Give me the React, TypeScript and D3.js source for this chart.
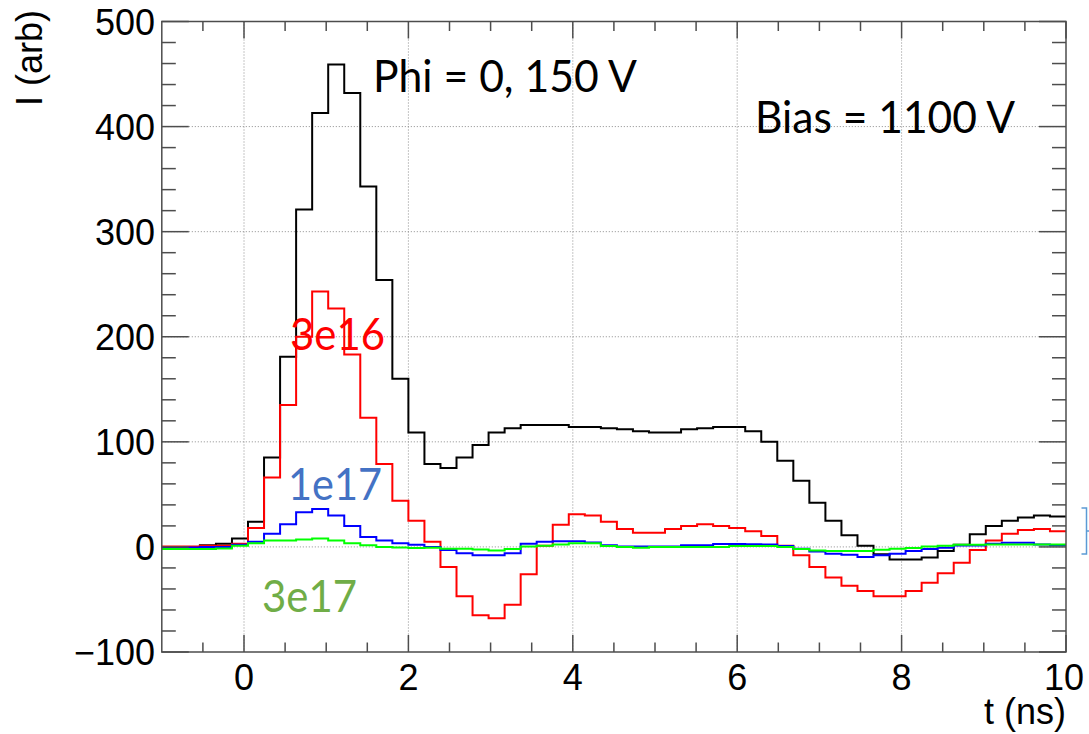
import * as d3 from 'd3';

// histogram binning (bin edges)
const BIN_LO = -1.122;
const BIN_WIDTH = 0.19512;

// signal per bin, Phi = 0 (black)
const phi0 = [
  0, 0, 0, 1.5, 3, 8, 24, 85, 181, 321, 413, 459, 432, 343, 254, 160, 109, 79, 75,
  85, 97, 109, 113, 116, 116, 116, 114, 114, 113, 112, 110, 109, 109, 112, 113, 114,
  114, 110, 100, 82, 63, 42, 25, 11, 1, -7, -12, -12, -10, -4, 2, 12, 20, 25, 28, 30, 29,
];
// 3e16 (red)
const phi3e16 = [
  0.5, 0.5, 0.5, 1, 1, 3, 18, 66, 135, 200, 243, 227, 183, 123, 79, 44, 25, 5, -19,
  -47, -65, -68, -55, -26, 1, 21, 31, 30, 24, 17, 13.5, 13.5, 17, 20, 21.5, 20, 18, 15,
  10.5, 1, -8, -19, -29, -37, -42, -47, -47, -42, -34, -25, -15, -3, 6, 12.5, 16, 17, 15,
];
// 1e17 (blue)
const phi1e17 = [
  -1, -1, -0.5, 0, 0, 2, 5, 12.5, 21.5, 33, 36, 30, 20, 9.5, 6, 3.5, 2, 0, -3, -6, -8,
  -8, -6, 3, 5, 5.5, 5.5, 4.3, 1.7, 0.5, 0.5, 0.5, 0.5, 1.7, 1.7, 2.7, 2.7, 2.5, 2.4, 0.8,
  -1.7, -4.3, -6.5, -7.4, -9.7, -8, -6.5, -4, -2, -0.8, 1.4, 1.4, 3, 4, 4, 2.4, 1.7,
];
// 3e17 (green)
const phi3e17 = [
  -2, -2, -2, -2, -1.5, 1, 3.5, 6, 6, 7, 8, 6, 3.5, 1.5, 0, -0.5, -1, -0.8, -1.7, -1.7,
  -2.4, -3.3, -2, 0.5, 1, 2.4, 3.6, 3.6, 0.8, 0, -0.8, 0, 0, 0, 0, 0, 0.8, 0.8, 0.8, 0,
  -2, -3.3, -4, -4, -4, -2.7, -1.7, -1, 0.3, 1, 2, 2, 2.4, 2.4, 2.4, 2.4, 2.4,
];

const xMajor = [0, 2, 4, 6, 8, 10];
const yMajor = [-100, 0, 100, 200, 300, 400, 500];

const W = 1089;
const H = 734;
const left = 161.8, right = 1066, top = 21.5, bottom = 652;

const x = d3.scaleLinear().domain([-1, 10]).range([left, right]);
const y = d3.scaleLinear().domain([-100, 500]).range([bottom, top]);

const stepLine = d3
  .line<[number, number]>()
  .x(d => x(d[0]))
  .y(d => y(d[1]))
  .curve(d3.curveStepAfter);

function histPath(vals: number[]) {
  const pts: [number, number][] = vals.map((v, i) => [BIN_LO + i * BIN_WIDTH, v]);
  pts.push([BIN_LO + vals.length * BIN_WIDTH, vals[vals.length - 1]]);
  return stepLine(pts) || '';
}

const series = [
  { vals: phi0, color: '#000000' },
  { vals: phi3e16, color: '#ff0000' },
  { vals: phi1e17, color: '#0000ff' },
  { vals: phi3e17, color: '#00ff00' },
];

export default function App() {
  const xMinor = d3.range(-1, 10.01, 0.5).filter(v => !xMajor.includes(v) && v > -1);
  const yMinor = d3.range(-100, 500.01, 20).filter(v => !yMajor.includes(v));
  const axisColor = '#4d4d4d';
  const tickFont = { fontFamily: '"Liberation Sans", Arial, sans-serif', fontSize: 36 };
  const noteFont = { fontFamily: 'Lato, "Open Sans", sans-serif' };

  return (
    <svg width={W} height={H} style={{ position: 'absolute', left: 0, top: 0, background: '#fff' }}>
      <defs>
        <clipPath id="plot">
          <rect x={left} y={top} width={right - left} height={bottom - top} />
        </clipPath>
      </defs>

      {/* grid */}
      <g stroke="#8c8c8c" strokeWidth={1} strokeDasharray="1 2">
        {xMajor.filter(v => v > -1 && v < 10).map(v => (
          <line key={'gx' + v} x1={x(v)} x2={x(v)} y1={top} y2={bottom} />
        ))}
        {yMajor.filter(v => v > -100 && v < 500).map(v => (
          <line key={'gy' + v} x1={left} x2={right} y1={y(v)} y2={y(v)} />
        ))}
      </g>

      {/* histograms */}
      <g clipPath="url(#plot)" fill="none" strokeWidth={2}>
        {series.map((s, i) => (
          <path key={i} d={histPath(s.vals)} stroke={s.color} />
        ))}
      </g>

      {/* frame and ticks */}
      <g stroke={axisColor} strokeWidth={1.5}>
        <rect x={left} y={top} width={right - left} height={bottom - top} fill="none" />
        {xMajor.map(v => (
          <g key={'xt' + v}>
            <line x1={x(v)} x2={x(v)} y1={bottom} y2={bottom - 17} />
            <line x1={x(v)} x2={x(v)} y1={top} y2={top + 17} />
          </g>
        ))}
        {xMinor.map(v => (
          <g key={'xm' + v}>
            <line x1={x(v)} x2={x(v)} y1={bottom} y2={bottom - 9.5} />
            <line x1={x(v)} x2={x(v)} y1={top} y2={top + 9.5} />
          </g>
        ))}
        {yMajor.map(v => (
          <g key={'yt' + v}>
            <line x1={left} x2={left + 27} y1={y(v)} y2={y(v)} />
            <line x1={right} x2={right - 27} y1={y(v)} y2={y(v)} />
          </g>
        ))}
        {yMinor.map(v => (
          <g key={'ym' + v}>
            <line x1={left} x2={left + 14} y1={y(v)} y2={y(v)} />
            <line x1={right} x2={right - 14} y1={y(v)} y2={y(v)} />
          </g>
        ))}
      </g>

      {/* tick labels */}
      <g {...tickFont} fill="#000">
        {xMajor.map(v => (
          <text key={'xl' + v} x={v === 10 ? x(v) - 2 : x(v)} y={690} textAnchor="middle">
            {v}
          </text>
        ))}
        {yMajor.map(v => (
          <text key={'yl' + v} x={155} y={y(v) + 13} textAnchor="end">
            {v < 0 ? '\u2212' + Math.abs(v) : v}
          </text>
        ))}
        <text x={right} y={724} textAnchor="end">t (ns)</text>
        <text transform="translate(42,10) rotate(-90)" textAnchor="end">I (arb)</text>
      </g>

      {/* annotations */}
      <g {...noteFont}>
        <text x={373} y={92} fontSize={44} textLength={264} lengthAdjust="spacingAndGlyphs" fill="#000">
          Phi = 0, 150 V
        </text>
        <text x={755} y={133} fontSize={44} textLength={260} lengthAdjust="spacingAndGlyphs" fill="#000">
          Bias = 1100 V
        </text>
        <text x={290} y={350} fontSize={44} textLength={95} lengthAdjust="spacingAndGlyphs" fill="#ff0000">
          3e16
        </text>
        <text x={288} y={500} fontSize={44} textLength={94} lengthAdjust="spacingAndGlyphs" fill="#4472C4">
          1e17
        </text>
        <text x={262} y={612} fontSize={44} textLength={95} lengthAdjust="spacingAndGlyphs" fill="#70AD47">
          3e17
        </text>
      </g>

      {/* brace at right edge */}
      <path d="M1081.5,508 H1086.5 V531 H1089 M1086.5,531 V554 H1081.5" fill="none" stroke="#5B9BD5" strokeWidth={1.5} />
    </svg>
  );
}
